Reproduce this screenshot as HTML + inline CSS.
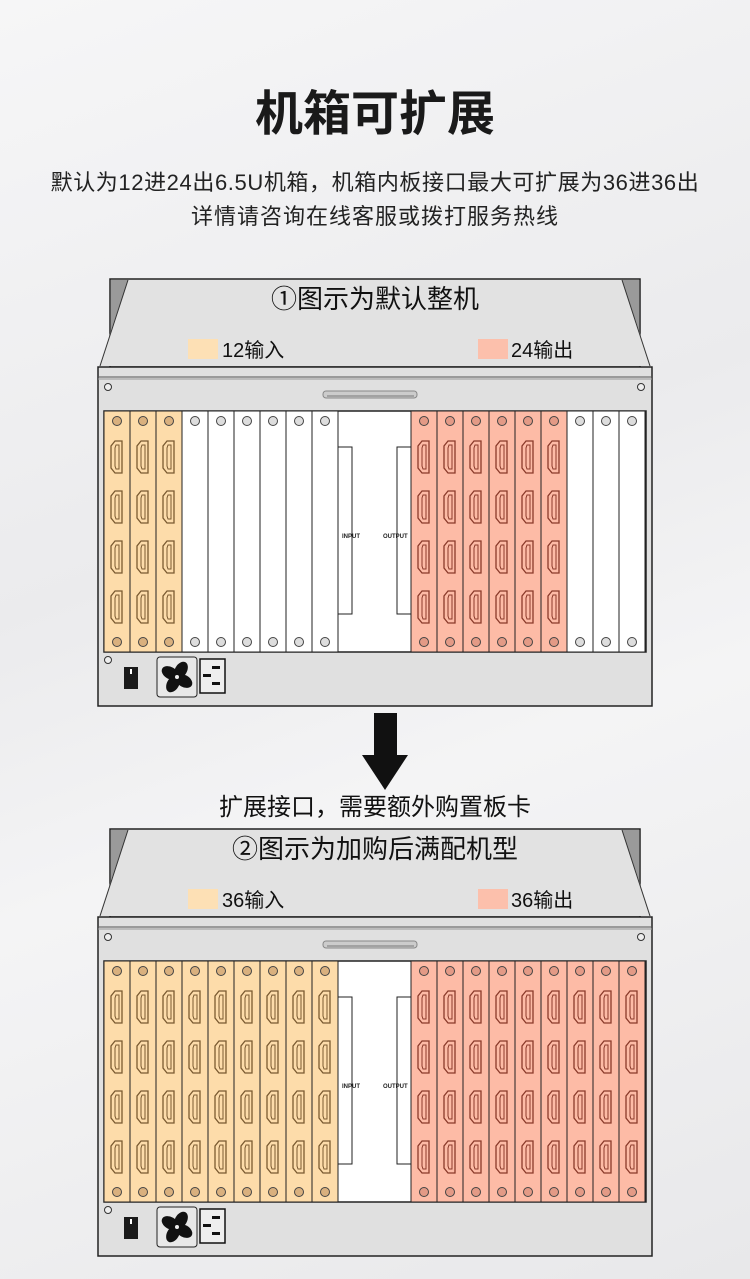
<!DOCTYPE html>
<html><head><meta charset="utf-8"><style>
body{margin:0;width:750px;height:1279px;overflow:hidden;background:linear-gradient(160deg,#f6f6f7 0%,#ebebed 40%,#f4f4f5 60%,#e8e8ea 100%);font-family:"Liberation Sans","Noto Sans CJK SC",sans-serif;}
.t{position:absolute;left:0;width:750px;text-align:center;color:#1a1a1a;}
</style></head><body>
<div class="t" style="top:74px;font-size:48px;font-weight:bold;">机箱可扩展</div>
<div class="t" style="top:165px;font-size:22px;letter-spacing:0.6px;color:#222;">默认为12进24出6.5U机箱，机箱内板接口最大可扩展为36进36出</div>
<div class="t" style="top:199px;font-size:22px;letter-spacing:1px;color:#222;">详情请咨询在线客服或拨打服务热线</div>
<svg id="s" width="750" height="1279" style="position:absolute;left:0;top:0" xmlns="http://www.w3.org/2000/svg" font-family="Liberation Sans, Noto Sans CJK SC, sans-serif"></svg>
<script>
var s=document.getElementById('s'),h='';
function chassis(o,title,lin,lout,full){
 h+='<rect x="110" y="'+(o+279)+'" width="530" height="88" fill="#e2e2e2" stroke="#222" stroke-width="1.5"/>';
 h+='<polygon points="111,'+(o+280)+' 128,'+(o+280)+' 100,'+(o+366)+' 111,'+(o+366)+'" fill="#9a9a9a"/>';
 h+='<polygon points="639,'+(o+280)+' 622,'+(o+280)+' 650,'+(o+366)+' 639,'+(o+366)+'" fill="#9a9a9a"/>';
 h+='<polygon points="128,'+(o+280)+' 622,'+(o+280)+' 651,'+(o+366)+' 99,'+(o+366)+'" fill="#e2e2e2"/>';
 h+='<line x1="128" y1="'+(o+280)+'" x2="100" y2="'+(o+366)+'" stroke="#333"/><line x1="622" y1="'+(o+280)+'" x2="650" y2="'+(o+366)+'" stroke="#333"/>';
 h+='<text x="375" y="'+(o+308)+'" text-anchor="middle" font-size="26" fill="#111">'+title+'</text>';
 h+='<rect x="188" y="'+(o+339)+'" width="30" height="20" fill="#fde0b5"/><text x="222" y="'+(o+357)+'" font-size="20" fill="#111">'+lin+'</text>';
 h+='<rect x="478" y="'+(o+339)+'" width="30" height="20" fill="#fcc0ac"/><text x="511" y="'+(o+357)+'" font-size="20" fill="#111">'+lout+'</text>';
 h+='<rect x="98" y="'+(o+367)+'" width="554" height="339" fill="#e0e0e0" stroke="#222" stroke-width="1.5"/>';
 h+='<line x1="98" y1="'+(o+377)+'" x2="652" y2="'+(o+377)+'" stroke="#555"/><line x1="98" y1="'+(o+379)+'" x2="652" y2="'+(o+379)+'" stroke="#999"/>';
 [[108,387],[641,387],[108,660]].forEach(function(p){h+='<circle cx="'+p[0]+'" cy="'+(o+p[1])+'" r="3.5" fill="#eee" stroke="#333"/>';});
 h+='<rect x="323" y="'+(o+391)+'" width="94" height="7" rx="3" fill="#ccc" stroke="#888"/><line x1="327" y1="'+(o+396)+'" x2="414" y2="'+(o+396)+'" stroke="#777"/>';
 h+='<rect x="104" y="'+(o+411)+'" width="542" height="241" fill="#fff" stroke="#222" stroke-width="1.5"/>';
 for(var i=0;i<18;i++){
  var x=i<9?104+i*26:411+(i-9)*26, type;
  if(i<9) type=(full||i<3)?'o':'w'; else type=(full||i<15)?'p':'w';
  var fill=type=='o'?'#fddcaa':type=='p'?'#fdbba6':'#fff', st=type=='o'?'#7a5a30':type=='p'?'#8a3a2a':'#222';
  var cf=type=='o'?'#d9b07e':type=='p'?'#e39a86':'#ddd';
  h+='<rect x="'+x+'" y="'+(o+411)+'" width="26" height="241" fill="'+fill+'" stroke="#222" stroke-width="1"/>';
  var cx=x+13;
  h+='<circle cx="'+cx+'" cy="'+(o+421)+'" r="4.5" fill="'+cf+'" stroke="#444"/><circle cx="'+cx+'" cy="'+(o+642)+'" r="4.5" fill="'+cf+'" stroke="#444"/>';
  if(type!='w'){for(var k=0;k<4;k++){var y=o+441+k*50;
   h+='<path d="M'+(cx-2)+','+y+' h7 v32 h-7 l-4,-5 v-22 z" fill="none" stroke="'+st+'" stroke-width="1.3"/>';
   h+='<path d="M'+(cx-1)+','+(y+4)+' h3 v24 h-3 l-1,-3 v-18 z" fill="none" stroke="'+st+'" stroke-width="1"/>';}}
 }
 h+='<polyline points="338,'+(o+447)+' 352,'+(o+447)+' 352,'+(o+614)+' 338,'+(o+614)+'" fill="none" stroke="#222"/>';
 h+='<polyline points="411,'+(o+447)+' 397,'+(o+447)+' 397,'+(o+614)+' 411,'+(o+614)+'" fill="none" stroke="#222"/>';
 h+='<text x="342" y="'+(o+538)+'" font-size="6" font-weight="bold" fill="#222">INPUT</text><text x="383" y="'+(o+538)+'" font-size="6" font-weight="bold" fill="#222">OUTPUT</text>';
 h+='<rect x="124" y="'+(o+667)+'" width="14" height="22" fill="#1a1a1a"/><rect x="130" y="'+(o+669)+'" width="2" height="5" fill="#fff"/>';
 h+='<rect x="157" y="'+(o+657)+'" width="40" height="40" rx="3" fill="#e8e8e8" stroke="#222"/>';
 var fx=177,fy=o+677,b='';
 for(var a=0;a<4;a++){b+='<ellipse cx="'+fx+'" cy="'+(fy-8)+'" rx="6" ry="9" fill="#111" transform="rotate('+(a*90+30)+' '+fx+' '+fy+')"/>';}
 h+=b+'<circle cx="'+fx+'" cy="'+fy+'" r="2" fill="#eee"/>';
 h+='<rect x="200" y="'+(o+659)+'" width="25" height="34" fill="#eee" stroke="#111" stroke-width="1.5"/>';
 h+='<rect x="212" y="'+(o+666)+'" width="8" height="3" fill="#111"/><rect x="203" y="'+(o+674)+'" width="8" height="3" fill="#111"/><rect x="212" y="'+(o+682)+'" width="8" height="3" fill="#111"/>';
}
chassis(0,'①图示为默认整机','12输入','24输出',false);
h+='<rect x="374" y="713" width="23" height="43" fill="#111"/><polygon points="362,755 408,755 385,790" fill="#111"/>';
h+='<text x="375" y="815" text-anchor="middle" font-size="24" fill="#111">扩展接口，需要额外购置板卡</text>';
chassis(550,'②图示为加购后满配机型','36输入','36输出',true);
s.innerHTML=h;
</script>
</body></html>
